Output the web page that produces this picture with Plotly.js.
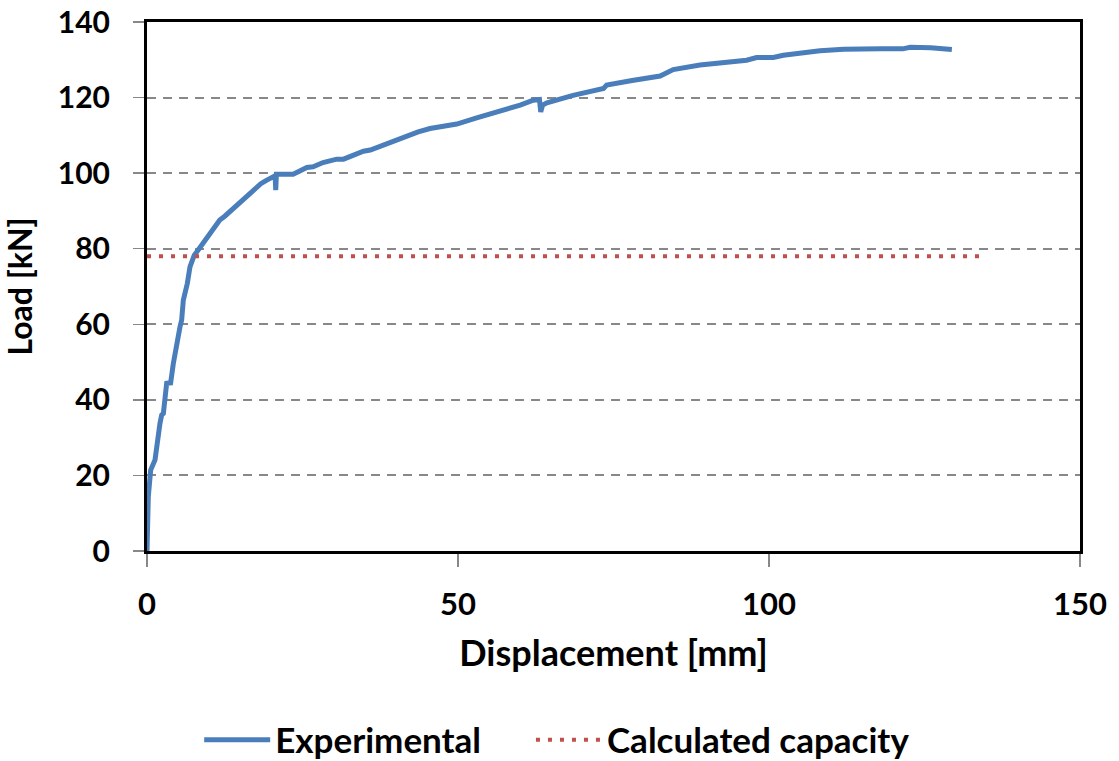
<!DOCTYPE html>
<html>
<head>
<meta charset="utf-8">
<script src="https://cdn.plot.ly/plotly-3.0.1.min.js"></script>
<style>
  html, body { margin: 0; padding: 0; background: #ffffff; }
  #chart { width: 1119px; height: 761px; }
</style>
</head>
<body>
<div id="chart"></div>
<script>
// Load–displacement response of the test specimen
const dispExp = [0, 0.21, 0.59, 1.29, 2.09, 2.36, 2.63, 3.16, 3.8, 4.23, 5.3, 5.57, 5.84, 6.48,
  6.91, 7.34, 7.6, 8.2, 9.0, 10.1, 10.9, 11.7, 12.5, 13.3, 14.4, 15.5, 16.4, 17.4, 18.3, 19.2,
  20.3, 20.6, 20.7, 20.8, 23.5, 25.7, 26.7, 28.3, 30.5, 31.6, 34.8, 35.9, 38.0, 40.1, 41.8,
  43.6, 45.5, 49.8, 53.0, 56.8, 60.0, 62.1, 63.1, 63.3, 63.6, 64.3, 68.5, 73.4, 73.9, 78.0,
  82.5, 84.6, 88.9, 96.4, 98.0, 100.7, 102.3, 108.2, 112.0, 118.0, 121.5, 122.7, 126.0, 129.4];
const loadExp = [0, 14.4, 21.4, 24.1, 33.8, 36.0, 36.4, 44.4, 44.5, 49.6, 59.3, 61.1, 66.4, 70.8,
  75.2, 77.4, 78.3, 79.6, 81.5, 84, 86.1, 87.6, 88.6, 89.8, 91.5, 92.9, 94.6, 96, 97.2, 98.1,
  99, 99.3, 95.5, 99.7, 99.7, 101.5, 101.7, 102.8, 103.7, 103.7, 105.8, 106.1, 107.4, 108.7, 110,
  110.9, 111.8, 113, 114.6, 116.4, 118, 119.3, 119.5, 116.2, 118, 118.6, 120.6, 122.4, 123.3, 124.5,
  125.7, 127.4, 128.6, 129.9, 130.6, 130.6, 131.2, 132.4, 132.8, 132.9, 132.9, 133.3, 133.2, 132.7];

// Calculated capacity level
const dispCalc = [0, 134.7];
const loadCalc = [78, 78];

const xTicks = [0, 50, 100, 150];
const yTicks = [0, 20, 40, 60, 80, 100, 120, 140];

const FAMILY = 'Lato, "Open Sans", sans-serif';
const bold = (size) => ({ family: FAMILY, weight: 700, size: size, color: '#000000' });

const traces = [
  {
    x: dispExp, y: loadExp, type: 'scatter', mode: 'lines', name: 'Experimental',
    line: { color: '#4A7EBB', width: 5 }, legend: 'legend'
  },
  {
    x: dispCalc, y: loadCalc, type: 'scatter', mode: 'lines', name: 'Calculated capacity',
    line: { color: '#C0504D', width: 4, dash: '4px,8px' }, legend: 'legend2'
  }
];

// One legend box per entry so each can sit at its own spot below the axes
const legendBase = {
  orientation: 'h', xanchor: 'left',
  yref: 'container', y: 0.0276, yanchor: 'middle', xref: 'container',
  font: bold(35), itemwidth: 66, bgcolor: 'rgba(0,0,0,0)'
};

const layout = {
  width: 1119, height: 761,
  margin: { l: 147, r: 39, t: 22, b: 210 },
  paper_bgcolor: '#ffffff', plot_bgcolor: '#ffffff',
  showlegend: true,
  legend: Object.assign({}, legendBase, { x: 0.178 }),
  legend2: Object.assign({}, legendBase, { x: 0.4745 }),
  xaxis: {
    range: [0, 150], tickvals: xTicks, ticktext: xTicks.map(String),
    showgrid: false, zeroline: false, automargin: false,
    showline: true, linecolor: '#000000', linewidth: 3, mirror: true,
    ticks: 'outside', ticklen: 13, tickwidth: 1.5, tickcolor: '#888888',
    ticklabelstandoff: 11,
    tickfont: bold(31),
    title: { text: 'Displacement [mm]', font: bold(36), standoff: 20 }
  },
  yaxis: {
    range: [0, 140], tickvals: yTicks, ticktext: yTicks.map(String),
    showgrid: true, gridcolor: '#888888', gridwidth: 2, griddash: '9px,7px',
    zeroline: false, automargin: false,
    showline: true, linecolor: '#000000', linewidth: 3, mirror: true,
    ticks: 'outside', ticklen: 11, tickwidth: 1.5, tickcolor: '#888888',
    ticklabelstandoff: 17,
    tickfont: bold(30),
    title: { text: 'Load [kN]', font: bold(32), standoff: 16 }
  }
};

Plotly.newPlot('chart', traces, layout, { displayModeBar: false, staticPlot: true });
</script>
</body>
</html>
